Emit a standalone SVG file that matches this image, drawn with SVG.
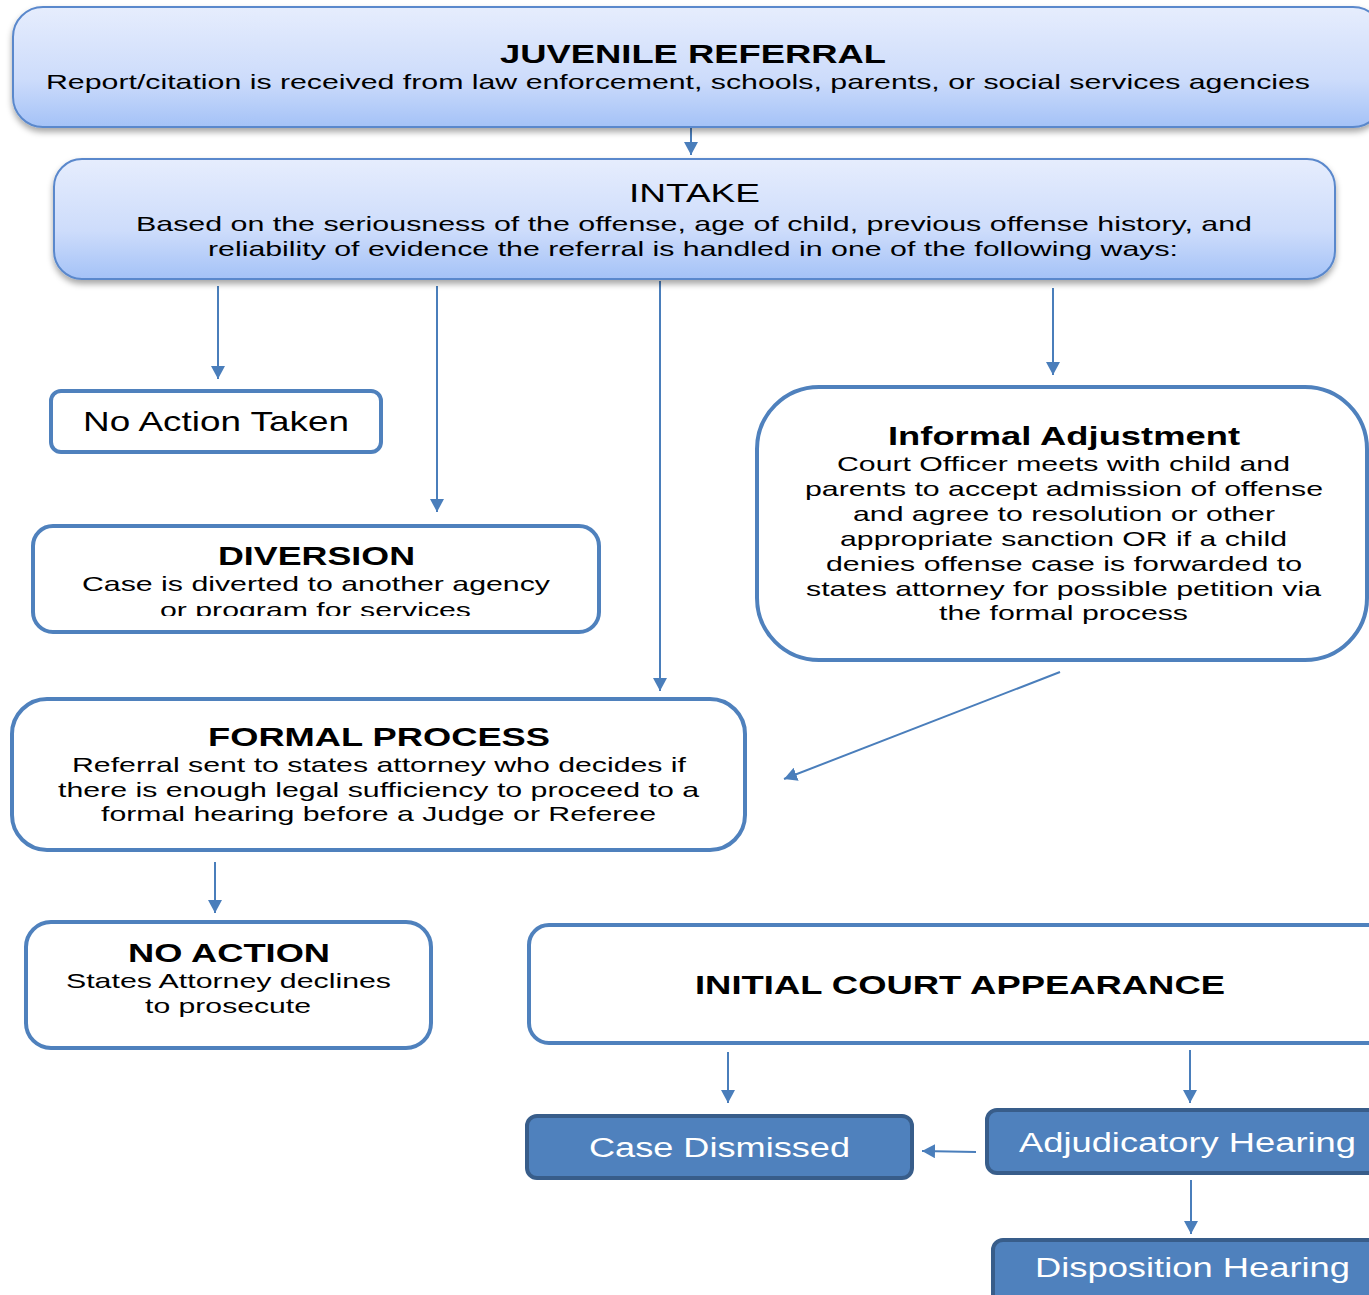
<svg xmlns="http://www.w3.org/2000/svg" width="1369" height="1295" viewBox="0 0 1369 1295">
  <defs>
    <linearGradient id="blueGrad" x1="0" y1="0" x2="0" y2="1">
      <stop offset="0" stop-color="#e6edfd"/>
      <stop offset="0.6" stop-color="#cddcfb"/>
      <stop offset="1" stop-color="#a4c2f7"/>
    </linearGradient>
    <filter id="shadow" x="-5%" y="-20%" width="110%" height="150%">
      <feDropShadow dx="0" dy="4" stdDeviation="3" flood-color="#000" flood-opacity="0.35"/>
    </filter>
    <marker id="arrow" markerUnits="userSpaceOnUse" markerWidth="14" markerHeight="14" refX="13" refY="7" orient="auto">
      <path d="M0,0 L13,7 L0,14 z" fill="#4a7ebb"/>
    </marker>
    <clipPath id="divClip">
      <rect x="0" y="500" width="700" height="116"/>
    </clipPath>
  </defs>
  <style>
    .grad { fill: url(#blueGrad); stroke: #5a88cc; stroke-width: 2; }
    .out { fill: #ffffff; stroke: #4f81bd; stroke-width: 4; }
    .solid { fill: #4f81bd; stroke: #385d8a; stroke-width: 4; }
    .t { font-family: "Liberation Sans", Arial, sans-serif; fill: #000; lengthAdjust: spacingAndGlyphs; }
    .h { font-weight: bold; font-size: 26px; }
    .b { font-size: 21px; }
    .w { fill: #ffffff; font-size: 27px; }
    .conn line { stroke: #4a7ebb; stroke-width: 2; marker-end: url(#arrow); }
  </style>

  <!-- connectors -->
  <g id="connectors" class="conn">
    <line x1="691" y1="127" x2="691" y2="155"/>
    <line x1="218" y1="286" x2="218" y2="379"/>
    <line x1="437" y1="286" x2="437" y2="512"/>
    <line x1="660" y1="281" x2="660" y2="691"/>
    <line x1="1053" y1="288" x2="1053" y2="375"/>
    <line x1="1060" y1="672" x2="784" y2="779"/>
    <line x1="215" y1="862" x2="215" y2="913"/>
    <line x1="728" y1="1052" x2="728" y2="1103"/>
    <line x1="1190" y1="1050" x2="1190" y2="1103"/>
    <line x1="976" y1="1152" x2="922" y2="1151"/>
    <line x1="1191" y1="1180" x2="1191" y2="1234"/>
  </g>

  <!-- juvenile referral -->
  <g id="juvenile-referral">
    <rect class="grad" x="13" y="7" width="1370" height="120" rx="30" filter="url(#shadow)"/>
    <text class="t h" x="500" y="63" textLength="386" lengthAdjust="spacingAndGlyphs">JUVENILE REFERRAL</text>
    <text class="t b" x="46" y="89" textLength="1264" lengthAdjust="spacingAndGlyphs">Report/citation is received from law enforcement, schools, parents, or social services agencies</text>
  </g>

  <!-- intake -->
  <g id="intake">
    <rect class="grad" x="54" y="159" width="1281" height="120" rx="28" filter="url(#shadow)"/>
    <text class="t" x="629" y="202" font-size="26" textLength="131" lengthAdjust="spacingAndGlyphs">INTAKE</text>
    <text class="t b" x="136" y="231" textLength="1116" lengthAdjust="spacingAndGlyphs">Based on the seriousness of the offense, age of child, previous offense history, and</text>
    <text class="t b" x="208" y="256" textLength="970" lengthAdjust="spacingAndGlyphs">reliability of evidence the referral is handled in one of the following ways:</text>
  </g>

  <!-- no action taken -->
  <g id="no-action-taken">
    <rect class="out" x="51" y="391" width="330" height="61" rx="10"/>
    <text class="t" x="83" y="431" font-size="28" textLength="266" lengthAdjust="spacingAndGlyphs">No Action Taken</text>
  </g>

  <!-- diversion -->
  <g id="diversion">
    <rect class="out" x="33" y="526" width="566" height="106" rx="20"/>
    <text class="t h" x="218" y="565" textLength="197" lengthAdjust="spacingAndGlyphs">DIVERSION</text>
    <text class="t b" x="82" y="591" textLength="468" lengthAdjust="spacingAndGlyphs">Case is diverted to another agency</text>
    <text class="t b" x="160" y="617" textLength="311" lengthAdjust="spacingAndGlyphs" clip-path="url(#divClip)">or program for services</text>
  </g>

  <!-- informal adjustment -->
  <g id="informal-adjustment">
    <rect class="out" x="757" y="387" width="610" height="273" rx="62"/>
    <text class="t h" x="888" y="445" textLength="352" lengthAdjust="spacingAndGlyphs">Informal Adjustment</text>
    <text class="t b" x="837" y="471" textLength="453" lengthAdjust="spacingAndGlyphs">Court Officer meets with child and</text>
    <text class="t b" x="805" y="496" textLength="518" lengthAdjust="spacingAndGlyphs">parents to accept admission of offense</text>
    <text class="t b" x="853" y="521" textLength="422" lengthAdjust="spacingAndGlyphs">and agree to resolution or other</text>
    <text class="t b" x="840" y="546" textLength="447" lengthAdjust="spacingAndGlyphs">appropriate sanction OR if a child</text>
    <text class="t b" x="826" y="571" textLength="476" lengthAdjust="spacingAndGlyphs">denies offense case is forwarded to</text>
    <text class="t b" x="806" y="596" textLength="515" lengthAdjust="spacingAndGlyphs">states attorney for possible petition via</text>
    <text class="t b" x="939" y="620" textLength="249" lengthAdjust="spacingAndGlyphs">the formal process</text>
  </g>

  <!-- formal process -->
  <g id="formal-process">
    <rect class="out" x="12" y="699" width="733" height="151" rx="35"/>
    <text class="t h" x="208" y="746" textLength="342" lengthAdjust="spacingAndGlyphs">FORMAL PROCESS</text>
    <text class="t b" x="72" y="772" textLength="614" lengthAdjust="spacingAndGlyphs">Referral sent to states attorney who decides if</text>
    <text class="t b" x="58" y="797" textLength="641" lengthAdjust="spacingAndGlyphs">there is enough legal sufficiency to proceed to a</text>
    <text class="t b" x="101" y="821" textLength="555" lengthAdjust="spacingAndGlyphs">formal hearing before a Judge or Referee</text>
  </g>

  <!-- no action -->
  <g id="no-action">
    <rect class="out" x="26" y="922" width="405" height="126" rx="25"/>
    <text class="t h" x="128" y="962" textLength="202" lengthAdjust="spacingAndGlyphs">NO ACTION</text>
    <text class="t b" x="66" y="988" textLength="325" lengthAdjust="spacingAndGlyphs">States Attorney declines</text>
    <text class="t b" x="145" y="1013" textLength="166" lengthAdjust="spacingAndGlyphs">to prosecute</text>
  </g>

  <!-- initial court appearance -->
  <g id="initial-court-appearance">
    <rect class="out" x="529" y="925" width="860" height="118" rx="20"/>
    <text class="t h" x="695" y="994" textLength="530" lengthAdjust="spacingAndGlyphs">INITIAL COURT APPEARANCE</text>
  </g>

  <!-- case dismissed -->
  <g id="case-dismissed">
    <rect class="solid" x="527" y="1116" width="385" height="62" rx="10"/>
    <text class="t w" x="589" y="1157" textLength="261" lengthAdjust="spacingAndGlyphs">Case Dismissed</text>
  </g>

  <!-- adjudicatory hearing -->
  <g id="adjudicatory-hearing">
    <rect class="solid" x="987" y="1110" width="400" height="63" rx="10"/>
    <text class="t w" x="1019" y="1152" textLength="337" lengthAdjust="spacingAndGlyphs">Adjudicatory Hearing</text>
  </g>

  <!-- disposition hearing -->
  <g id="disposition-hearing">
    <rect class="solid" x="993" y="1240" width="400" height="65" rx="10"/>
    <text class="t w" x="1035" y="1277" textLength="315" lengthAdjust="spacingAndGlyphs">Disposition Hearing</text>
  </g>
</svg>
